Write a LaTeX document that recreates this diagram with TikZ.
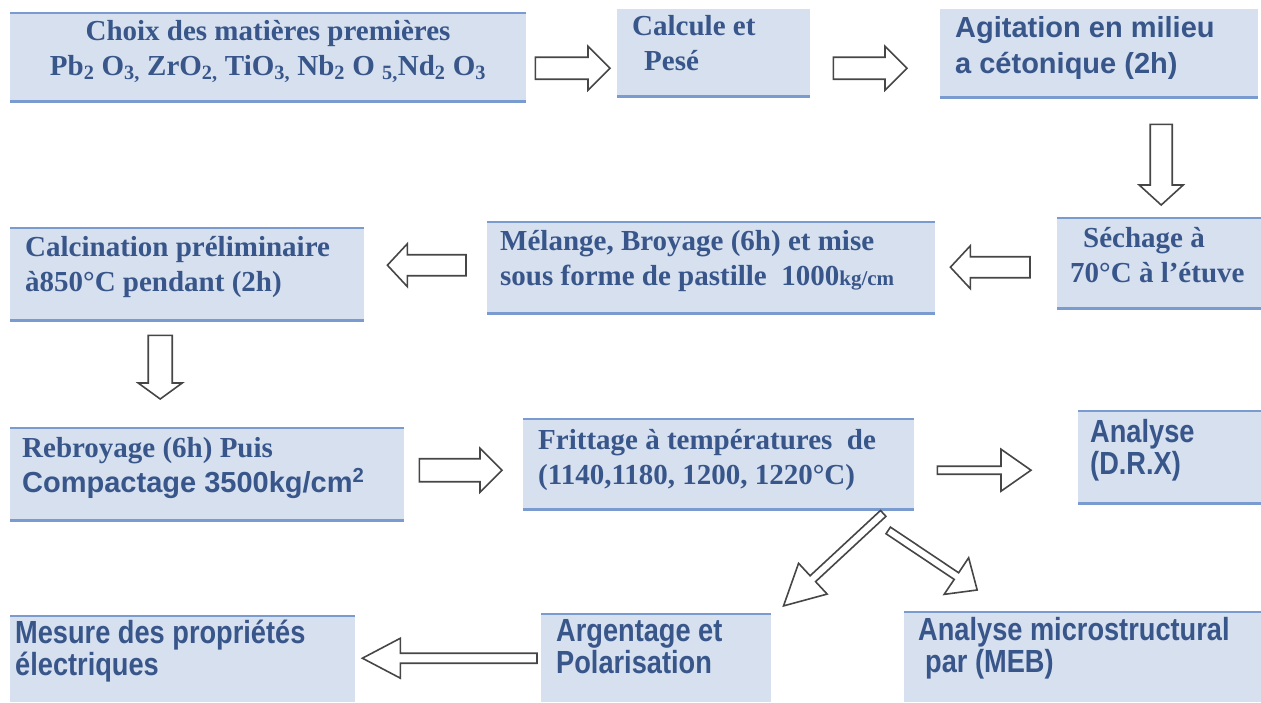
\documentclass[tikz,border=0pt]{standalone}
\usepackage{fontspec}
\setmainfont{Liberation Serif}
\newfontfamily\sansbf{Liberation Sans}
\newfontfamily\narrowbf[FakeStretch=0.85]{Liberation Sans}
\usetikzlibrary{calc}

\definecolor{boxblue}{RGB}{214,224,239}
\definecolor{rulebl}{RGB}{122,155,208}
\definecolor{inkblue}{RGB}{56,86,138}
\definecolor{arrowgray}{RGB}{70,70,70}

% hollow block arrow: start, end, shaft half width, head half width, head length
\newcommand{\hollowarrow}[5]{%
  \draw[arrowline] let \p1=(#1), \p2=(#2),
      \n1={atan2(\y2-\y1,\x2-\x1)}, \n2={veclen(\x2-\x1,\y2-\y1)} in
    [shift={(\p1)}, rotate=\n1]
    (0pt,-#3pt) -- (\n2-#5pt,-#3pt) -- (\n2-#5pt,-#4pt) -- (\n2,0pt)
    -- (\n2-#5pt,#4pt) -- (\n2-#5pt,#3pt) -- (0pt,#3pt) -- cycle;
}

\begin{document}
\begin{tikzpicture}[x=1pt, y=-1pt,
    box/.style={fill=boxblue, inner sep=0pt, anchor=north west},
    serif/.style={text=inkblue, inner sep=0pt, anchor=base west, align=left,
      font=\fontsize{29}{35}\selectfont\bfseries},
    sans/.style={serif, font=\fontsize{29}{36}\selectfont\sansbf\bfseries},
    narrow/.style={serif, font=\fontsize{32}{32}\selectfont\narrowbf\bfseries},
    bluerule/.style={rulebl, line width=2.5pt},
    arrowline/.style={draw=arrowgray, fill=white, line width=1.6pt, line join=miter}]

  \useasboundingbox (0,0) rectangle (1261,702);

  % boxes
  \node[box, minimum width=516pt, minimum height=88pt] (choix) at (10,13) {};
  \node[box, minimum width=193pt, minimum height=87pt] (calcule) at (617,9) {};
  \node[box, minimum width=318pt, minimum height=88pt] (agit) at (940,9) {};
  \node[box, minimum width=204pt, minimum height=90pt] (sechage) at (1057,218) {};
  \node[box, minimum width=448pt, minimum height=91pt] (melange) at (487,222) {};
  \node[box, minimum width=354pt, minimum height=92pt] (calcin) at (10,228) {};
  \node[box, minimum width=394pt, minimum height=92pt] (rebroy) at (10,428) {};
  \node[box, minimum width=391pt, minimum height=90pt] (fritt) at (523,419) {};
  \node[box, minimum width=183pt, minimum height=92pt] (drx) at (1078,411) {};
  \node[box, minimum width=345pt, minimum height=86pt] (mesure) at (10,616) {};
  \node[box, minimum width=230pt, minimum height=88pt] (argent) at (541,614) {};
  \node[box, minimum width=357pt, minimum height=90pt] (micro) at (904,612) {};

  \foreach \b in {choix,sechage,melange,calcin,rebroy,fritt,drx,mesure,argent,micro}
    \draw[bluerule] (\b.north west) -- (\b.north east);
  \foreach \b in {choix,calcule,agit,sechage,melange,calcin,rebroy,fritt,drx}
    \draw[bluerule] (\b.south west) -- (\b.south east);

  % texts (base = last line)
  \node[serif, anchor=base, align=center] (choix-t) at (268,75)
    {Choix des matières premières\\
     Pb\textsubscript{2} O\textsubscript{3,} ZrO\textsubscript{2,} TiO\textsubscript{3,}
     Nb\textsubscript{2} O \textsubscript{5,}Nd\textsubscript{2} O\textsubscript{3}};
  \node[serif] (calcule-t) at (632,70) {Calcule et\\\hspace*{12pt}Pesé};
  \node[sans] (agit-t) at (955,73) {Agitation en milieu\\a cétonique (2h)};
  \node[serif] (sechage-t) at (1070,282) {\hspace*{13pt}Séchage à\\70°C à l’étuve};
  \node[serif] (melange-t) at (500,285)
    {Mélange, Broyage (6h) et mise\\sous forme de pastille \ 1000{\fontsize{21}{21}\selectfont kg/cm}};
  \node[serif] (calcin-t) at (25,291) {Calcination préliminaire\\à850°C pendant (2h)};
  \node[serif] (rebroy-t) at (22,492)
    {Rebroyage (6h) Puis\\{\sansbf Compactage 3500kg/cm\textsuperscript{2}}};
  \node[serif] (fritt-t) at (538,484) {Frittage à températures \ de\\(1140,1180, 1200, 1220°C)};
  \node[narrow] (drx-t) at (1090,474) {Analyse\\(D.R.X)};
  \node[narrow] (mesure-t) at (15,675) {Mesure des propriétés\\électriques};
  \node[narrow] (argent-t) at (556,673) {Argentage et\\Polarisation};
  \node[narrow] (micro-t) at (918,672) {Analyse microstructural\\\hspace*{7pt}par (MEB)};

  % arrows
  \hollowarrow{$(choix.east)+(9,11)$}{$(calcule.west)+(-7,15.5)$}{11}{22}{22}
  \hollowarrow{$(calcule.east)+(23,15.5)$}{$(agit.west)+(-33,15)$}{11}{22}{22}
  \hollowarrow{$(agit.south)+(62,27)$}{$(sechage.north)+(2,-13)$}{11}{22}{20}
  \hollowarrow{$(sechage.west)+(-27,4)$}{$(melange.east)+(15,-0.5)$}{10.5}{21.5}{20}
  \hollowarrow{$(melange.west)+(-21,-2.5)$}{$(calcin.east)+(23,-9)$}{10.5}{21.5}{20}
  \hollowarrow{$(calcin.south)+(-27,15)$}{$(rebroy.north)+(-47,-29)$}{12}{22}{16}
  \hollowarrow{$(rebroy.east)+(15,-4)$}{$(fritt.west)+(-21,6)$}{11.5}{22}{22}
  \hollowarrow{$(fritt.east)+(23,6)$}{$(drx.west)+(-47,13)$}{4}{21}{30}
  \hollowarrow{$(fritt.south)+(164.5,4)$}{$(argent.north east)+(12,-8)$}{4}{21}{40}
  \hollowarrow{$(fritt.south)+(169.5,21)$}{$(micro.north)+(-105.5,-22)$}{4}{22}{25}
  \hollowarrow{$(argent.west)+(-4,0)$}{$(mesure.east)+(7,-1)$}{5}{20}{38}
\end{tikzpicture}
\end{document}
